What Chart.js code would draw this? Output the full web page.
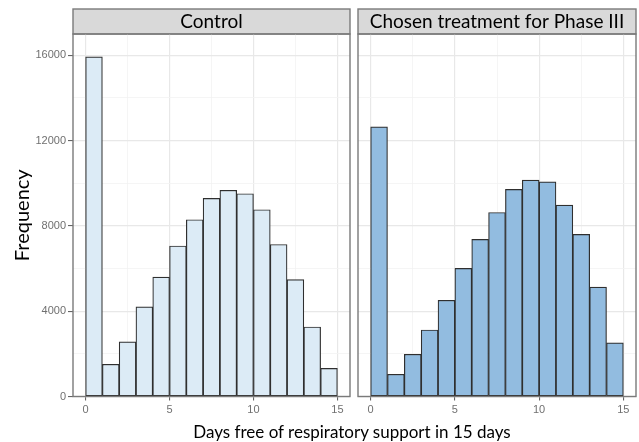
<!DOCTYPE html>
<html>
<head>
<meta charset="utf-8">
<script src="https://cdn.jsdelivr.net/npm/chart.js@4.4.1/dist/chart.umd.min.js"></script>
<style>
html,body{margin:0;padding:0;background:#fff;}
#wrap{position:relative;width:639px;height:442px;overflow:hidden;}
#wrap canvas{position:absolute;left:0;top:0;}
#xtitle{position:absolute;left:52px;width:600px;top:420px;height:24px;line-height:24px;text-align:center;font-family:Lato,"Open Sans",sans-serif;font-size:17px;color:#000;}
</style>
</head>
<body>
<div id="wrap">
<canvas id="c1" width="639" height="442"></canvas>
<canvas id="c2" width="639" height="442"></canvas>
<div id="xtitle">Days free of respiratory support in 15 days</div>
</div>
<script>
// ---- data ----
const binStarts = [0,1,2,3,4,5,6,7,8,9,10,11,12,13,14];
const controlCounts = [15930,1510,2560,4200,5600,7060,8290,9290,9670,9510,8760,7130,5480,3260,1320];
const treatmentCounts = [12650,1040,1980,3120,4510,6010,7370,8630,9710,10150,10070,8980,7600,5130,2520];
const panelTitles = ["Control","Chosen treatment for Phase III"];
const xTickValues = [0,2.5,5,7.5,10,12.5,15];
const yTickValues = [0,2000,4000,6000,8000,10000,12000,14000,16000];
const xLabel = "Days free of respiratory support in 15 days";
const yLabel = "Frequency";

const FRAME = '#7a7a7a';
const stripPlugin = {
  id: 'strip',
  beforeDraw(chart) {
    const ctx = chart.ctx, a = chart.chartArea;
    ctx.save();
    ctx.fillStyle = '#d9d9d9';
    ctx.fillRect(a.left, 9, a.right - a.left, a.top - 9);
    ctx.strokeStyle = FRAME; ctx.lineWidth = 1.4;
    ctx.strokeRect(a.left, 9, a.right - a.left, a.top - 9);
    ctx.restore();
  },
  afterDatasetsDraw(chart) {
    const ctx = chart.ctx, a = chart.chartArea;
    ctx.save();
    ctx.strokeStyle = FRAME; ctx.lineWidth = 1.4;
    ctx.strokeRect(a.left, a.top, a.right - a.left, a.bottom - a.top);
    ctx.restore();
  }
};

function makeChart(id, counts, fill, title, showY, padLeft, padRight) {
  const data = binStarts.map((b, i) => ({x: b + 0.5, y: counts[i]}));
  return new Chart(document.getElementById(id), {
    type: 'bar',
    data: { datasets: [{ data, backgroundColor: fill, borderColor: '#2f2f2f', borderWidth: 1.2, borderSkipped: false, barPercentage: 1, categoryPercentage: 1 }] },
    options: {
      responsive: false, animation: false, devicePixelRatio: 1,
      layout: { padding: { left: padLeft, right: padRight, top: 9, bottom: 25.5 } },
      plugins: { legend: { display: false }, tooltip: { enabled: false }, title: { display: false } },
      scales: {
        x: {
          type: 'linear', min: -0.75, max: 15.75, position: 'bottom', offset: false,
          afterBuildTicks: s => { s.ticks = xTickValues.map(v => ({value: v})); },
          afterFit: s => { s.height = 20; },
          border: { display: false },
          grid: {
            offset: false,
            color: c => (c.tick && c.tick.value % 5 === 0) ? '#e8e8e8' : '#f3f3f3',
            lineWidth: c => (c.tick && c.tick.value % 5 === 0) ? 1.2 : 0.8,
            tickColor: c => (c.tick && c.tick.value % 5 === 0) ? '#555' : 'rgba(0,0,0,0)',
            tickLength: 4, tickWidth: 1
          },
          ticks: {
            autoSkip: false, maxRotation: 0, padding: 3, color: '#707070',
            font: { family: '"Liberation Sans", Arial, sans-serif', size: 11 },
            callback: v => (v % 5 === 0) ? String(v) : ''
          }
        },
        xTop: {
          type: 'linear', min: -0.75, max: 15.75, position: 'top', offset: false,
          afterFit: s => { s.height = 25; },
          border: { display: false },
          grid: { drawOnChartArea: false, drawTicks: false, offset: false },
          ticks: { display: false },
          title: { display: true, text: title, color: '#000', padding: { top: 1.5, bottom: 0 },
            font: { family: 'Lato, "Open Sans", sans-serif', size: 19, lineHeight: 1.2 } }
        },
        y: {
          type: 'linear', min: 0, max: 17000,
          afterBuildTicks: s => { s.ticks = yTickValues.map(v => ({value: v})); },
          afterFit: s => { s.width = showY ? 73 : 0; },
          border: { display: false },
          grid: {
            color: c => (c.tick && c.tick.value % 4000 === 0) ? '#e8e8e8' : '#f3f3f3',
            lineWidth: c => (c.tick && c.tick.value % 4000 === 0) ? 1.2 : 0.8,
            tickColor: c => (showY && c.tick && c.tick.value % 4000 === 0) ? '#555' : 'rgba(0,0,0,0)',
            drawTicks: showY, tickLength: 5, tickWidth: 1
          },
          ticks: {
            display: showY, autoSkip: false, padding: 2, color: '#707070',
            font: { family: '"Liberation Sans", Arial, sans-serif', size: 11 },
            callback: v => (v % 4000 === 0) ? String(v) : ''
          },
          title: { display: showY, text: yLabel, color: '#000', padding: { top: 11, bottom: 0 },
            font: { family: 'Lato, "Open Sans", sans-serif', size: 20, lineHeight: 1.2 } }
        }
      }
    },
    plugins: [stripPlugin]
  });
}

makeChart('c1', controlCounts, '#dcebf6', panelTitles[0], true, 0, 289);
makeChart('c2', treatmentCounts, '#92bce0', panelTitles[1], false, 358, 3);
</script>
</body>
</html>
